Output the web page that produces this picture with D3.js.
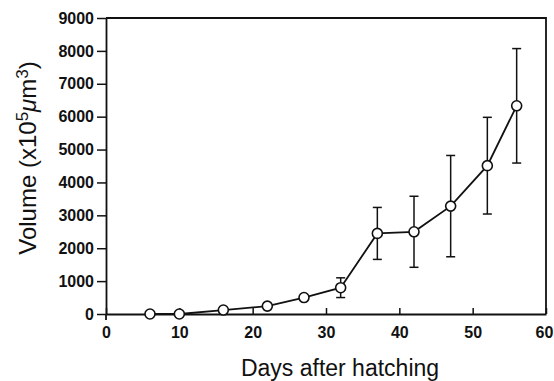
<!DOCTYPE html>
<html>
<head>
<meta charset="utf-8">
<script src="https://cdn.jsdelivr.net/npm/d3@7"></script>
<style>
  body { margin: 0; background: #fff; }
  svg { display: block; }
  text { font-family: "Liberation Sans", Arial, sans-serif; fill: #111; }
</style>
</head>
<body>
<div id="chart"></div>
<script>
// values
const days = [6, 10, 16, 22, 27, 32, 37, 42, 47, 52, 56];
const volume = [0, 0, 120, 240, 500, 800, 2450, 2500, 3280, 4510, 6330];
const sd = [0, 0, 0, 0, 0, 300, 790, 1080, 1540, 1470, 1740];
const xTicks = [0, 10, 20, 30, 40, 50, 60];
const yTicks = [0, 1000, 2000, 3000, 4000, 5000, 6000, 7000, 8000, 9000];

let width = 554;
let height = 381;
let margin = {top: 18, right: 8, bottom: 67, left: 106};
let ink = "#111";

let svg = d3.select("#chart")
    .append("svg")
    .attr("width", width)
    .attr("height", height);

let x = d3.scaleLinear()
    .domain([0, 60])
    .range([margin.left, width - margin.right]);

let y = d3.scaleLinear()
    .domain([0, 9000])
    .range([height - margin.bottom, margin.top]);

let points = days.map((d, i) => ({day: d, v: volume[i], sd: sd[i]}));

/* frame: top and right sides */
svg.append("path")
    .attr("d", `M${x(0)},${y(9000)}H${x(60)}V${y(0)}`)
    .attr("fill", "none")
    .attr("stroke", ink)
    .attr("stroke-width", 1.8);

// x axis, ticks point inward
let xAxis = svg.append("g")
    .attr("transform", `translate(0,${y(0)})`)
    .call(d3.axisBottom(x).tickValues(xTicks).tickFormat(d3.format("d"))
        .tickSize(-6).tickPadding(13).tickSizeOuter(0));

// y axis, ticks point outward
let yAxis = svg.append("g")
    .attr("transform", `translate(${x(0)},0)`)
    .call(d3.axisLeft(y).tickValues(yTicks).tickFormat(d3.format("d"))
        .tickSize(9).tickPadding(3).tickSizeOuter(0));

[xAxis, yAxis].forEach(g => {
    g.select(".domain").attr("stroke", ink).attr("stroke-width", 1.8);
    g.selectAll(".tick line").attr("stroke", ink).attr("stroke-width", 1.5);
    g.selectAll(".tick text")
        .attr("fill", ink)
        .style("font-size", "16px")
        .style("font-weight", "bold")
        .style("font-family", "'Liberation Sans', Arial, sans-serif");
});

// keep the last x label inside the picture
xAxis.selectAll(".tick text").filter(d => d === 60).attr("dx", -2);

// small stub of the y axis below the origin
svg.append("line")
    .attr("x1", x(0)).attr("x2", x(0))
    .attr("y1", y(0)).attr("y2", y(0) + 6)
    .attr("stroke", ink)
    .attr("stroke-width", 1.8);

/* error bars */
let bars = svg.append("g")
    .attr("stroke", ink)
    .attr("stroke-width", 1.5)
    .selectAll("g")
    .data(points.filter(p => p.sd > 0))
    .enter().append("g");

bars.append("line")
    .attr("x1", p => x(p.day)).attr("x2", p => x(p.day))
    .attr("y1", p => y(p.v - p.sd)).attr("y2", p => y(p.v + p.sd));

[-1, 1].forEach(s => {
    bars.append("line")
        .attr("x1", p => x(p.day) - 4.5).attr("x2", p => x(p.day) + 4.5)
        .attr("y1", p => y(p.v + s * p.sd)).attr("y2", p => y(p.v + s * p.sd));
});

// the line and its open markers
svg.append("path")
    .datum(points)
    .attr("fill", "none")
    .attr("stroke", ink)
    .attr("stroke-width", 1.8)
    .attr("d", d3.line().x(p => x(p.day)).y(p => y(p.v)));

svg.append("g")
    .selectAll("circle")
    .data(points)
    .enter().append("circle")
    .attr("cx", p => x(p.day))
    .attr("cy", p => y(p.v))
    .attr("r", 5)
    .attr("fill", "#fff")
    .attr("stroke", ink)
    .attr("stroke-width", 1.6);

/* axis titles */
svg.append("text")
    .attr("x", 340)
    .attr("y", 376)
    .attr("text-anchor", "middle")
    .style("font-size", "23px")
    .text("Days after hatching");

let yTitle = svg.append("text")
    .attr("transform", "translate(36,158) rotate(-90)")
    .attr("text-anchor", "middle")
    .style("font-size", "24px");

yTitle.append("tspan").text("Volume (x10");
yTitle.append("tspan").attr("dy", -8).style("font-size", "17px").text("5");
yTitle.append("tspan").attr("dy", 8).style("font-style", "italic").text("μ");
yTitle.append("tspan").text("m");
yTitle.append("tspan").attr("dy", -8).style("font-size", "17px").text("3");
yTitle.append("tspan").attr("dy", 8).text(")");
</script>
</body>
</html>
